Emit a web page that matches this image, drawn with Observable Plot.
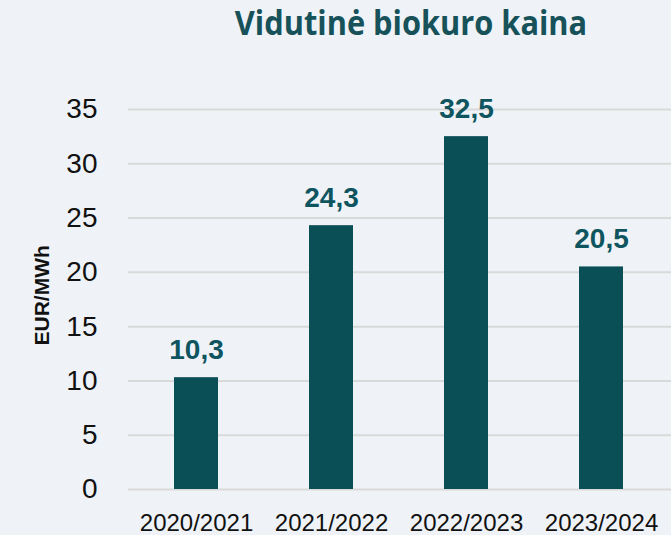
<!DOCTYPE html>
<html>
<head>
<meta charset="utf-8">
<script src="https://cdn.jsdelivr.net/npm/d3@7"></script>
<script src="https://cdn.jsdelivr.net/npm/@observablehq/plot@0.6"></script>
<style>
  html, body { margin: 0; padding: 0; background: #eff3f7; }
  #wrap { width: 671px; height: 535px; background: #eff3f7; overflow: hidden; }
  #title { position: relative; height: 60px; }
  #title span {
    position: absolute; left: 411px; top: 1px; transform: translateX(-50%) scaleX(0.905);
    white-space: nowrap; font-family: "Open Sans", sans-serif; font-weight: 700;
    font-size: 34px; color: #17525a; line-height: 42px;
  }
  #chart svg { overflow: visible; }
</style>
</head>
<body>
<div id="wrap">
  <div id="title"><span>Vidutinė biokuro kaina</span></div>
  <div id="chart"></div>
</div>
<script>
const seasons = ["2020/2021", "2021/2022", "2022/2023", "2023/2024"];
const prices = [10.3, 24.3, 32.5, 20.5];
const priceLabels = ["10,3", "24,3", "32,5", "20,5"];
const yTicks = [0, 5, 10, 15, 20, 25, 30, 35];
const yLabel = "EUR/MWh";

const data = seasons.map((s, i) => ({season: s, price: prices[i], label: priceLabels[i]}));

const chart = Plot.plot({
  width: 671,
  height: 475,
  marginTop: 49,
  marginBottom: 46,
  marginLeft: 128,
  marginRight: 0,
  style: {background: "transparent", fontFamily: "'Liberation Sans', Arial, sans-serif"},
  x: {domain: seasons, paddingInner: 0.674, paddingOuter: 0.337, range: [128, 669], label: null},
  y: {domain: [0, 35], label: null},
  marks: [
    Plot.gridY(yTicks, {stroke: "#d9d9d9", strokeOpacity: 1, strokeWidth: 2}),
    Plot.barY(data, {x: "season", y: "price", fill: "#0a4f56"}),
    Plot.text(data, {x: "season", y: "price", text: "label", lineAnchor: "bottom", dy: -19, fill: "#0f5560", fontWeight: "bold", fontSize: 28}),
    Plot.axisY(yTicks, {tickSize: 0, tickPadding: 31, fontSize: 28, fill: "#111", label: null}),
    Plot.axisX({tickSize: 0, tickPadding: 24, fontSize: 24, fill: "#111", label: null}),
    Plot.text([yLabel], {frameAnchor: "left", text: d => d, rotate: -90, lineAnchor: "bottom", dx: -80, dy: 46, fontWeight: "bold", fontSize: 21, fill: "#111"})
  ]
});
document.getElementById("chart").appendChild(chart);
</script>
</body>
</html>
